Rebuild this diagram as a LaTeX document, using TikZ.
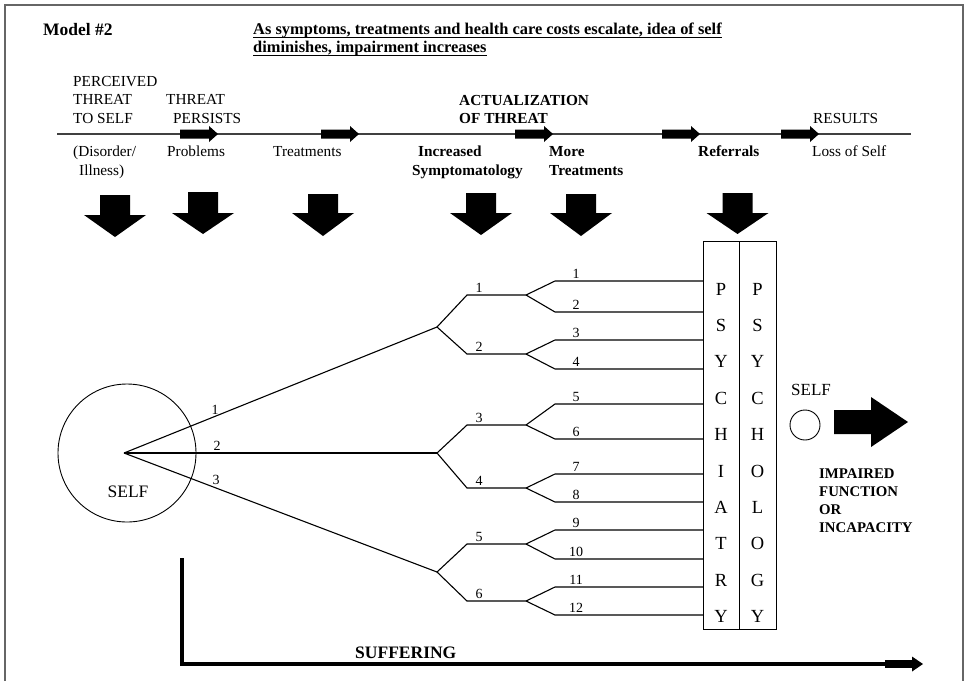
\documentclass[tikz,border=0pt]{standalone}
\usepackage{fontspec}
\setmainfont{Liberation Serif}
\newcommand\fsz[1]{\fontsize{#1}{#1}\selectfont}
\newcommand\bigdown[4]{\fill (#1-15,#2) -- (#1+15,#2) -- (#1+15,#3) -- (#1+31,#3) -- (#1,#4) -- (#1-31,#3) -- (#1-15,#3) -- cycle;}
\newcommand\tlarrow[1]{\fill (#1,129.5) -- (#1+29,129.5) -- (#1+29,126) -- (#1+38,134) -- (#1+29,142) -- (#1+29,138.5) -- (#1,138.5) -- cycle;}
\begin{document}
\begin{tikzpicture}[x=1pt,y=-1pt,
  txt/.style={inner sep=0pt, anchor=base west, font=\fsz{15.3}},
  btxt/.style={inner sep=0pt, anchor=base west, font=\fsz{15.3}\bfseries},
  num/.style={inner sep=0pt, anchor=base, font=\fsz{14}},
  letr/.style={inner sep=0pt, anchor=base, font=\fsz{18.5}},
  branch/.style={line width=1.1pt},
  frameline/.style={draw=black!60, line width=1.5pt}]
\useasboundingbox (0,0) rectangle (965,681);
% frame
\draw[frameline] (5,681) -- (5,5) -- (963,5) -- (963,681);
% header
\node[btxt, font=\fsz{17.5}\bfseries] (model) at (43,35) {Model \#2};
\node[btxt, font=\fsz{16.4}\bfseries] (h1) at (253,34) {As symptoms, treatments and health care costs escalate, idea of self};
\node[btxt, font=\fsz{16.4}\bfseries] (h2) at (253,52) {diminishes, impairment increases};
\draw[line width=1.2pt] ([yshift=-3.5pt]h1.base west) -- ([yshift=-3.5pt]h1.base east);
\draw[line width=1.2pt] ([yshift=-3.5pt]h2.base west) -- ([yshift=-3.5pt]h2.base east);
% labels above timeline
\node[txt] (t1) at (73,86) {PERCEIVED};
\node[txt] (t2) at (73,104) {THREAT};
\node[txt] (t3) at (73,123) {TO SELF};
\node[txt] (t4) at (166,104) {THREAT};
\node[txt] (t5) at (173,123) {PERSISTS};
\node[btxt] (t6) at (459,105) {ACTUALIZATION};
\node[btxt] (t7) at (459,123) {OF THREAT};
\node[txt] (t8) at (813,123) {RESULTS};
% timeline
\coordinate (tlA) at (57,134);
\coordinate (tlB) at (911,134);
\draw[line width=1.1pt, black!75] (tlA) -- (tlB);
\tlarrow{180}
\tlarrow{321}
\tlarrow{515}
\tlarrow{662}
\tlarrow{781}
% labels below timeline
\node[txt] (u1) at (73,156) {(Disorder/};
\node[txt] (u2) at (79,175) {Illness)};
\node[txt] (u3) at (167,156) {Problems};
\node[txt] (u4) at (273,156) {Treatments};
\node[btxt] (u5) at (418,156) {Increased};
\node[btxt] (u6) at (412,175) {Symptomatology};
\node[btxt] (u7) at (549,156) {More};
\node[btxt] (u8) at (549,175) {Treatments};
\node[btxt] (u9) at (698,156) {Referrals};
\node[txt] (u10) at (812,156) {Loss of Self};
% big down arrows
\bigdown{115}{195}{215}{237}
\bigdown{203}{192}{213}{234}
\bigdown{323}{194}{213}{236}
\bigdown{481}{193}{213}{235}
\bigdown{581}{194}{213}{236}
\bigdown{737.5}{193}{213}{234}
% self circle
\node[draw, circle, minimum size=138pt, inner sep=0pt, line width=0.9pt] (self) at (127,453) {};
\node[txt, anchor=base, font=\fsz{17.5}] (selflbl) at (128,497) {SELF};
\coordinate (o) at (124,453);
\coordinate (b1) at (437,327);
\coordinate (b2) at (437,453);
\coordinate (b3) at (437,572);
\draw[branch] (o) -- (b1);
\draw[branch] (o) -- (b2);
\draw[branch] (o) -- (b3);
\node[num] (k1) at (215,414) {1};
\node[num] (k2) at (217,450) {2};
\node[num] (k3) at (216,484) {3};
% psych box
\node[draw, line width=1pt, inner sep=0pt, minimum width=36pt, minimum height=388pt, anchor=north west] (psychiatry) at (703,241) {};
\node[draw, line width=1pt, inner sep=0pt, minimum width=37pt, minimum height=388pt, anchor=north west] (psychology) at (739,241) {};
\foreach \c [count=\k from 0] in {P,S,Y,C,H,I,A,T,R,Y}
  \node[letr] (pa\k) at (721,295+36.4*\k) {\c};
\foreach \c [count=\k from 0] in {P,S,Y,C,H,O,L,O,G,Y}
  \node[letr] (po\k) at (757.5,295+36.4*\k) {\c};
% level 2
\foreach \j/\s/\b in {1/295/b1, 2/354/b1, 3/425/b2, 4/488/b2, 5/544/b3, 6/601/b3} {
  \draw[branch] (\b) -- (467,\s) -- (526,\s);
  \node[num] (m\j) at (479,\s-3) {\j};
}
% leaves
\foreach \i/\y/\s in {1/281/295, 2/312/295, 3/340/354, 4/369/354, 5/404/425, 6/439/425, 7/474/488, 8/502/488, 9/530/544, 10/559/544, 11/587/601, 12/615/601} {
  \draw[branch] (526,\s) -- (555,\y) -- (psychiatry.west |- 555,\y);
  \node[num] (n\i) at (576,\y-3) {\i};
}
% right side
\node[txt, font=\fsz{17}] (self2lbl) at (791,395) {SELF};
\node[draw, circle, minimum size=30pt, inner sep=0pt, line width=0.9pt] (self2) at (805,425) {};
\fill (834,410) -- (871,410) -- (871,397) -- (908,422) -- (871,447) -- (871,434) -- (834,434) -- cycle;
\node[btxt, font=\fsz{14.8}\bfseries] (r1) at (819,478) {IMPAIRED};
\node[btxt, font=\fsz{14.8}\bfseries] (r2) at (819,496) {FUNCTION};
\node[btxt, font=\fsz{14.8}\bfseries] (r3) at (819,514) {OR};
\node[btxt, font=\fsz{14.8}\bfseries] (r4) at (819,532) {INCAPACITY};
% suffering
\coordinate (sufA) at (182,558);
\coordinate (sufB) at (182,664);
\coordinate (sufC) at (886,664);
\draw[line width=3.5pt] (sufA) -- (sufB) -- (sufC);
\fill (885,660) rectangle (912,668);
\fill (912,656.5) -- (923,664) -- (912,671.5) -- cycle;
\node[btxt, font=\fsz{17.5}\bfseries] (suf) at (355,658) {SUFFERING};
\end{tikzpicture}
\end{document}
